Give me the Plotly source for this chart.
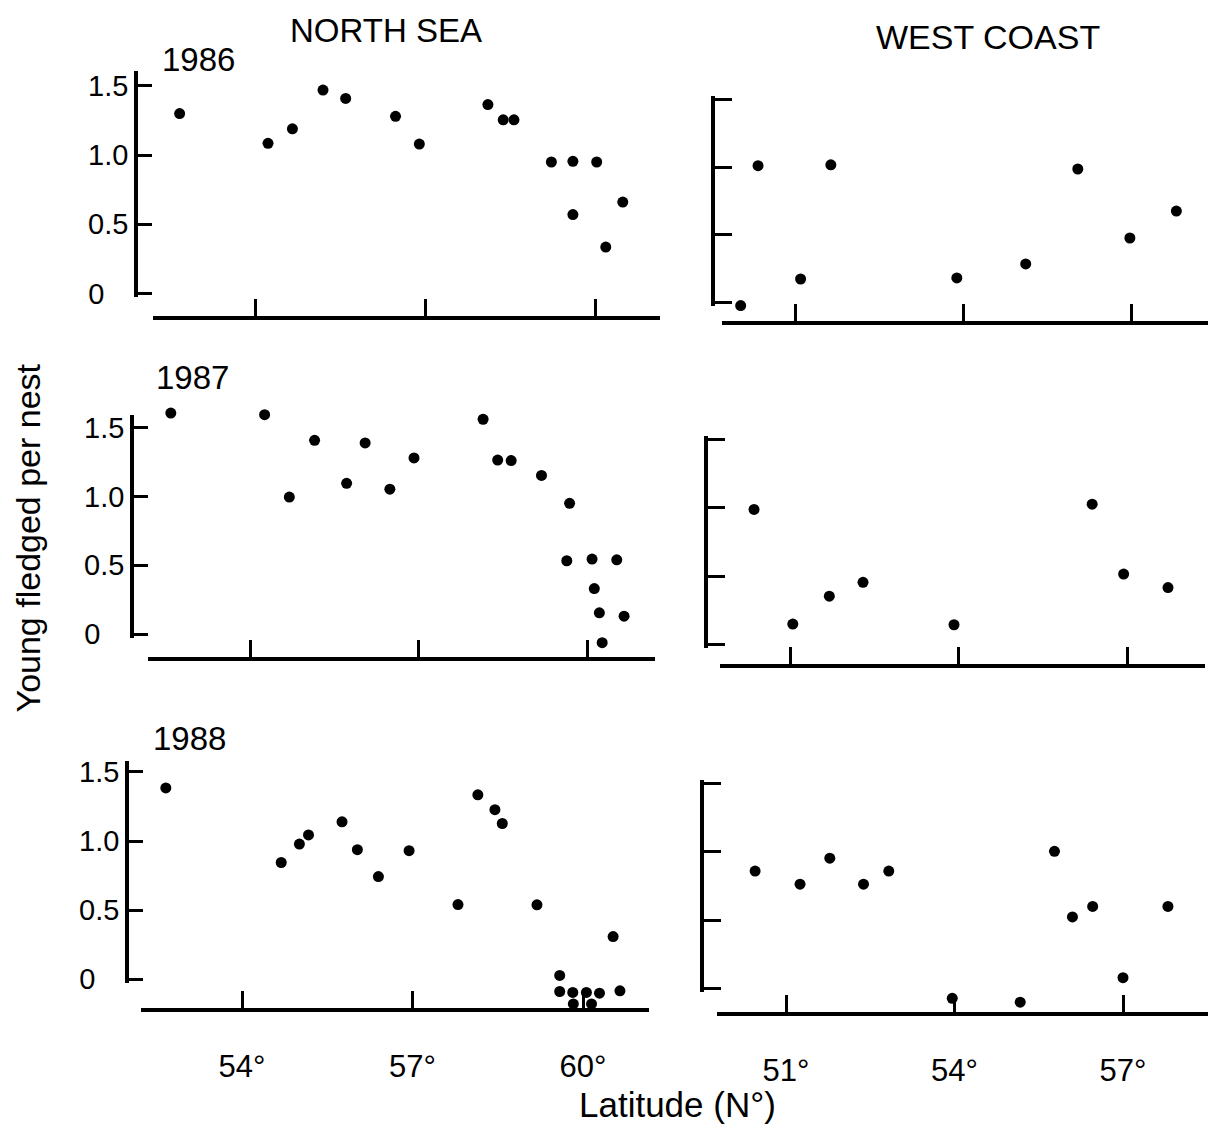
import plotly.graph_objects as go

W, H = 1215, 1137
FONT = "Liberation Sans, Arial, Helvetica, sans-serif"

# ---------------- data ----------------
years = ["1986", "1987", "1988"]

ns_1986_lat = [52.67, 54.23, 54.66, 55.20, 55.60, 56.48, 56.90, 58.11, 58.38, 58.57, 59.23, 59.61, 60.03, 59.61, 60.19, 60.49]
ns_1986_val = [1.30, 1.085, 1.19, 1.47, 1.41, 1.28, 1.08, 1.365, 1.255, 1.255, 0.95, 0.955, 0.95, 0.57, 0.335, 0.66]

ns_1987_lat = [52.59, 54.26, 54.70, 55.15, 55.72, 56.05, 56.49, 56.92, 58.15, 58.41, 58.65, 59.19, 59.69, 59.64, 60.09, 60.53, 60.13, 60.22, 60.66, 60.27]
ns_1987_val = [1.605, 1.593, 0.995, 1.407, 1.095, 1.388, 1.052, 1.279, 1.56, 1.264, 1.26, 1.152, 0.95, 0.533, 0.545, 0.54, 0.331, 0.155, 0.131, -0.062]

ns_1988_lat = [52.66, 54.69, 55.01, 55.17, 55.76, 56.03, 56.40, 56.94, 57.80, 58.15, 58.45, 58.58, 59.19, 59.59, 59.59, 59.82, 60.06, 60.29, 59.83, 60.15, 60.53, 60.65]
ns_1988_val = [1.384, 0.845, 0.978, 1.044, 1.139, 0.938, 0.743, 0.930, 0.541, 1.334, 1.227, 1.127, 0.539, 0.028, -0.088, -0.095, -0.095, -0.10, -0.178, -0.178, 0.309, -0.083]

wc_1986_lat = [50.03, 50.34, 51.10, 51.64, 53.89, 55.12, 56.05, 56.98, 57.81]
wc_1986_val = [-0.02, 1.01, 0.176, 1.017, 0.184, 0.287, 0.986, 0.478, 0.676]

wc_1987_lat = [50.36, 51.05, 51.70, 52.30, 53.92, 56.38, 56.94, 57.73]
wc_1987_val = [0.989, 0.151, 0.355, 0.456, 0.146, 1.027, 0.516, 0.418]

wc_1988_lat = [50.45, 51.25, 51.78, 52.38, 52.83, 53.96, 55.17, 55.78, 56.10, 56.46, 57.00, 57.80]
wc_1988_val = [0.859, 0.763, 0.953, 0.763, 0.859, -0.072, -0.10, 1.003, 0.523, 0.60, 0.079, 0.60]

ns_tick_vals = [54, 57, 60]
ns_tick_text = ["54°", "57°", "60°"]
wc_tick_vals = [51, 54, 57]
wc_tick_text = ["51°", "54°", "57°"]
y_tick_vals = [0, 0.5, 1.0, 1.5]
y_tick_text = ["0", "0.5", "1.0", "1.5"]

# ---------------- panel geometry (pixels in the page) ----------------
panels = [
    dict(lat=ns_1986_lat, val=ns_1986_val, col="ns", xs=153, xe=660, xy=318, ta=255, tb=595, yl=136, y0=293, ppu=140.5, ytop=67, labels=False),
    dict(lat=wc_1986_lat, val=wc_1986_val, col="wc", xs=722, xe=1208, xy=323, ta=795, tb=1131, yl=713, y0=302.7, ppu=138.0, ytop=95.7, labels=False),
    dict(lat=ns_1987_lat, val=ns_1987_val, col="ns", xs=148, xe=655, xy=665, ta=250, tb=587, yl=132, y0=639.3, ppu=140.0, ytop=416.7, labels=False),
    dict(lat=wc_1987_lat, val=wc_1987_val, col="wc", xs=720, xe=1205, xy=672, ta=790, tb=1127, yl=706, y0=650, ppu=139.0, ytop=441.7, labels=False),
    dict(lat=ns_1988_lat, val=ns_1988_val, col="ns", xs=141, xe=649, xy=1021, ta=242, tb=583, yl=127, y0=990, ppu=140.5, ytop=768, labels=True),
    dict(lat=wc_1988_lat, val=wc_1988_val, col="wc", xs=717, xe=1208, xy=1025, ta=786, tb=1123, yl=702, y0=999.3, ppu=138.9, ytop=791, labels=True),
]

fig = go.Figure()
layout = dict(
    width=W, height=H, margin=dict(l=0, r=0, t=0, b=0),
    paper_bgcolor="white", plot_bgcolor="rgba(0,0,0,0)",
    showlegend=False, font=dict(family=FONT, color="black"),
)

VMIN, VMAX = -0.35, 1.85   # limits of the (hidden) data axis
EPS = 0.025                # so that end ticks at 0 / 1.5 are drawn
n = len(panels)
# single-character label set to the left of the column, as in the original
y_tick_disp = [t if len(t) > 1 else t + "\u00a0\u00a0\u00a0" for t in y_tick_text]

for i, p in enumerate(panels, start=1):
    ns = p["col"] == "ns"
    tv = ns_tick_vals if ns else wc_tick_vals
    tt = ns_tick_text if ns else wc_tick_text
    lat_a, lat_b = tv[0], tv[-1]
    s = (p["tb"] - p["ta"]) / (lat_b - lat_a)
    xr = [lat_a + (p["xs"] - p["ta"]) / s, lat_a + (p["xe"] - p["ta"]) / s]
    ytop_val = (p["y0"] - p["ytop"]) / p["ppu"] if ns else 1.5
    top_disp = ytop_val if ns else ytop_val + EPS
    sx = "" if i == 1 else str(i)
    sy_disp = str(i + n)

    def ypaper(v):
        return 1 - (p["y0"] - v * p["ppu"]) / H

    layout["xaxis" + sx] = dict(
        domain=[p["xs"] / W, p["xe"] / W], range=xr, anchor="free",
        position=1 - p["xy"] / H, showline=True, linewidth=4, linecolor="black",
        ticks="inside", ticklen=17, tickwidth=2.5, tickcolor="black",
        tickvals=tv, ticktext=tt, showticklabels=p["labels"],
        tickfont=dict(size=31, family=FONT, color="black"), ticklabelstandoff=28,
        showgrid=False, zeroline=False, fixedrange=True,
    )
    # hidden data axis (extends beyond 0 .. top so that all points are shown)
    layout["yaxis" + sx] = dict(
        domain=[ypaper(VMIN), ypaper(VMAX)], range=[VMIN, VMAX],
        anchor="free", position=p["yl"] / W, visible=False,
        showgrid=False, zeroline=False, fixedrange=True,
    )
    # visible value axis, spanning 0 .. top only
    layout["yaxis" + sy_disp] = dict(
        domain=[ypaper(-EPS), ypaper(top_disp)], range=[-EPS, top_disp],
        anchor="free", position=p["yl"] / W,
        showline=True, linewidth=3.5, linecolor="black",
        ticks="inside", ticklen=14 if ns else 17, tickwidth=2.5, tickcolor="black",
        tickvals=y_tick_vals, ticktext=y_tick_disp, showticklabels=ns,
        tickfont=dict(size=29, family=FONT, color="black"), ticklabelstandoff=0,
        showgrid=False, zeroline=False, fixedrange=True,
    )
    fig.add_trace(go.Scatter(
        x=[None], y=[None], mode="markers", xaxis="x" + sx, yaxis="y" + sy_disp,
        hoverinfo="skip", showlegend=False,
    ))
    fig.add_trace(go.Scatter(
        x=p["lat"], y=p["val"], mode="markers",
        marker=dict(size=11, color="black"),
        xaxis="x" + sx, yaxis="y" + sx,
        hoverinfo="x+y", showlegend=False,
    ))

ann = []
def text(t, x, y, size, xanchor="center", angle=0):
    ann.append(dict(text=t, x=x / W, y=1 - y / H, xref="paper", yref="paper",
                    showarrow=False, xanchor=xanchor, yanchor="middle",
                    textangle=angle, font=dict(size=size, family=FONT, color="black")))

text("NORTH SEA", 386, 26, 33)
text("WEST COAST", 988, 33, 34)
text(years[0], 160, 55, 33, xanchor="left")
text(years[1], 154, 379, 33, xanchor="left")
text(years[2], 151, 745, 33, xanchor="left")
text("Young fledged per nest", 28, 542, 34, angle=-90)
text("Latitude (N°)", 677, 1117, 35)
layout["annotations"] = ann

fig.update_layout(**layout)
fig.write_html("out.html")
